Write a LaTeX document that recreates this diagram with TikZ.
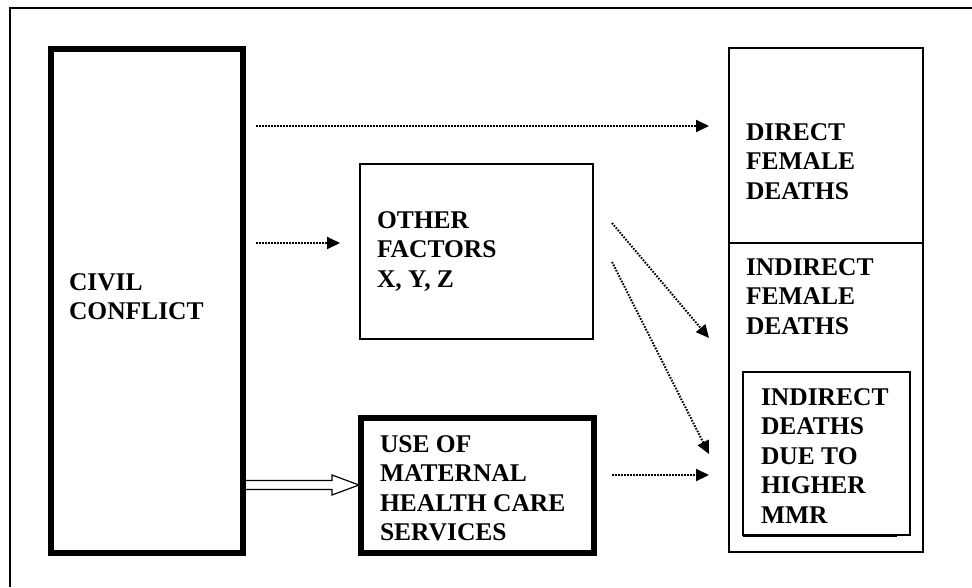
\documentclass[tikz,border=0pt]{standalone}
\usepackage{fontspec}
\setmainfont{Liberation Serif}
\usetikzlibrary{arrows.meta,calc}

\begin{document}
\begin{tikzpicture}[x=1pt,y=-1pt,
  box/.style={draw,inner sep=0pt,outer sep=0pt,line width=1.5pt},
  heavybox/.style={box,line width=6pt},
  label/.style={anchor=north west,inner sep=0pt,outer sep=0pt,align=left,
    font=\bfseries\fontsize{25.5}{29.5}\selectfont},
  dotarrow/.style={line width=2pt,dash pattern=on 1.6pt off 1.4pt,
    -{Triangle[length=13pt,width=12pt,sep=0pt]}},
  hollowarrow/.style={draw,fill=white,line width=1.2pt,line join=miter}
]
\useasboundingbox (0,0) rectangle (972,587);

% outer frame (open at right and bottom)
\draw[line width=1.6pt] (10,587) -- (10,8) -- (972,8);

% boxes
\node[heavybox,minimum width=192pt,minimum height=504pt] (civil) at (147,300.5) {};
\node[box,line width=1.2pt,minimum width=233pt,minimum height=175pt] (other) at (476.5,251.5) {};
\node[box,minimum width=194pt,minimum height=195pt] (direct) at (826,145.5) {};
\node[box,minimum width=194pt,minimum height=309pt] (indirect) at (826,397.5) {};
\node[box,minimum width=167pt,minimum height=163pt] (mmr) at (826.5,453.5) {};
\draw[line width=1.5pt] ($(mmr.south west)+(0,1.6)$) -- ($(mmr.south east)+(-13,1.6)$);

% hollow arrow from the conflict box to the services box
\coordinate (ha) at (civil.east |- 0,485);
\path[hollowarrow] (ha) ++(0,-4.5) -- ++(89,0) -- ++(0,-5.5) -- ++(27,10)
  -- ++(-27,10) -- ++(0,-5.5) -- ++(-89,0) -- cycle;
\node[heavybox,minimum width=233pt,minimum height=135pt] (health) at (477,485) {};
\draw[line width=6pt] (civil.north east) -- (civil.south east);

% texts
\node[label] (tcivil) at (69,273.5) {CIVIL\\CONFLICT};
\node[label] (tother) at (377,211.5) {OTHER\\FACTORS\\X, Y, Z};
\node[label] (thealth) at (380,435.5) {USE OF\\MATERNAL\\HEALTH CARE\\SERVICES};
\node[label] (tdirect) at (746,123.5) {DIRECT\\FEMALE\\DEATHS};
\node[label] (tindirect) at (746,258.5) {INDIRECT\\FEMALE\\DEATHS};
\node[label] (tmmr) at (761,388.5) {INDIRECT\\DEATHS\\DUE TO\\HIGHER\\MMR};

% dotted connectors
\draw[dotarrow,shorten <=13pt,shorten >=20pt] (civil.east |- 0,126) -- (direct.west |- 0,126);
\draw[dotarrow,shorten <=13pt,shorten >=20pt] (civil.east |- 0,243) -- (other.west |- 0,243);
\coordinate (d1s) at ($(other.north east)+(19,59)$);
\coordinate (d1e) at ($(indirect.north west)+(-20,95)$);
\draw[dotarrow] (d1s) -- (d1e);
\coordinate (d2s) at ($(other.north east)+(19,98)$);
\coordinate (d2e) at ($(indirect.north west)+(-20,211)$);
\draw[dotarrow] (d2s) -- (d2e);
\draw[dotarrow,shorten <=18.5pt,shorten >=20pt] (health.east |- 0,475) -- (indirect.west |- 0,475);
\end{tikzpicture}
\end{document}
